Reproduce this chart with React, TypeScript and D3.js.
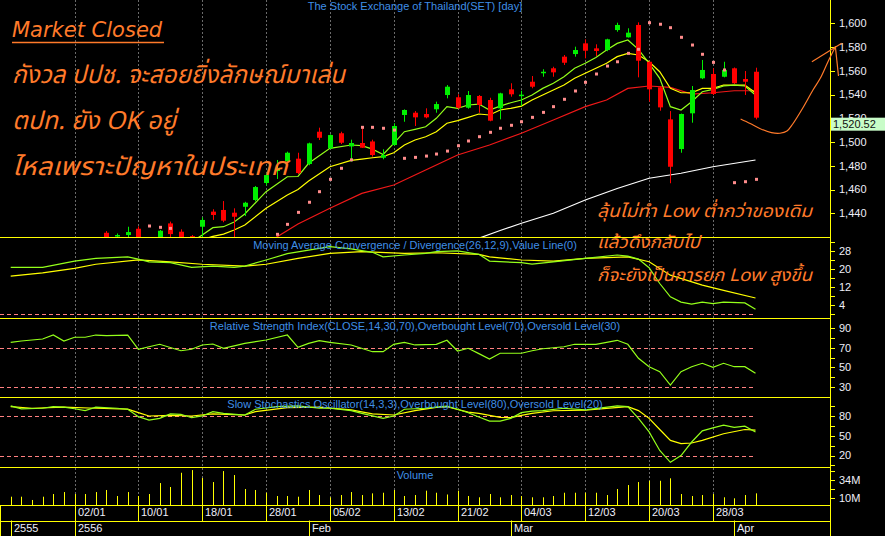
import React from 'react';
import * as d3 from 'd3';

const W = 885;
const H = 536;

// ---------- data ----------
const dates = [
  '21/12/2012', '24/12/2012', '25/12/2012', '26/12/2012', '27/12/2012', '28/12/2012',
  '02/01/2013', '03/01/2013', '04/01/2013', '07/01/2013', '08/01/2013', '09/01/2013', '10/01/2013', '11/01/2013',
  '14/01/2013', '15/01/2013', '16/01/2013', '17/01/2013', '18/01/2013', '21/01/2013', '22/01/2013', '23/01/2013',
  '24/01/2013', '25/01/2013', '28/01/2013', '29/01/2013', '30/01/2013', '31/01/2013', '01/02/2013', '04/02/2013',
  '05/02/2013', '06/02/2013', '07/02/2013', '08/02/2013', '11/02/2013', '12/02/2013', '13/02/2013', '14/02/2013',
  '15/02/2013', '18/02/2013', '19/02/2013', '20/02/2013', '21/02/2013', '22/02/2013', '26/02/2013', '27/02/2013',
  '28/02/2013', '01/03/2013', '04/03/2013', '05/03/2013', '06/03/2013', '07/03/2013', '08/03/2013', '11/03/2013',
  '12/03/2013', '13/03/2013', '14/03/2013', '15/03/2013', '18/03/2013', '19/03/2013', '20/03/2013', '21/03/2013',
  '22/03/2013', '25/03/2013', '26/03/2013', '27/03/2013', '28/03/2013', '29/03/2013', '01/04/2013', '02/04/2013',
  '03/04/2013',
];

const opens = [
  1396, 1398, 1400, 1399, 1404, 1406, 1408, 1412, 1415, 1423.6,
  1420.5, 1421.7, 1427, 1418, 1417, 1431.5, 1424.5, 1420.8, 1428.7, 1441.4,
  1442.8, 1440.5, 1445.5, 1451.2, 1465.5, 1475.6, 1483.8, 1486, 1481.5, 1508.7,
  1494.7, 1507.4, 1496.3, 1499.2, 1500.5, 1486.8, 1497.5, 1522.8, 1524.7, 1523.6,
  1527.6, 1539.6, 1537.7, 1528.9, 1538.8, 1535.4, 1528.4, 1544.4, 1538.8, 1550.8,
  1558.4, 1562.1, 1571.9, 1574.1, 1583.1, 1578.9, 1577.5, 1594.3, 1588.2, 1598.6,
  1567.6, 1546.1, 1519.1, 1494.1, 1524.2, 1553.7, 1557.3, 1555, 1562.1, 1553.1,
  1559.2,
];
const highs = [
  1400, 1402, 1403, 1405, 1408, 1410, 1414, 1417, 1419, 1425,
  1423, 1428.7, 1429, 1419, 1426, 1433, 1426.5, 1421.7, 1436.6, 1443.4,
  1450.3, 1444.2, 1449.7, 1463, 1473.5, 1484.9, 1491.9, 1491, 1499.5, 1512.1,
  1506.5, 1508.7, 1502, 1511.6, 1502, 1493.9, 1515.8, 1527.5, 1526.1, 1528.4,
  1534, 1548, 1540.2, 1543, 1539.6, 1537.3, 1541.5, 1549.5, 1543.2, 1555.6,
  1561.3, 1563.4, 1573.3, 1580.3, 1586.5, 1582.3, 1587, 1600.5, 1595.8, 1600.8,
  1568, 1547, 1526.1, 1524, 1547.2, 1569.1, 1562.1, 1567.6, 1562.8, 1559.8,
  1562.6,
];
const lows = [
  1392, 1395, 1397, 1397, 1401, 1403, 1406, 1409, 1411, 1416,
  1417, 1420, 1415, 1412, 1414, 1420, 1414, 1416, 1418, 1434.4,
  1432.5, 1419, 1437.7, 1450, 1463.5, 1468.9, 1482.5, 1473, 1480.5, 1501.7,
  1494, 1498.3, 1483.4, 1495, 1487.7, 1485.5, 1497, 1517.1, 1513.5, 1520,
  1524.7, 1536.8, 1528, 1528.1, 1524.7, 1517.5, 1519.1, 1538.2, 1530.4, 1545.3,
  1555, 1555, 1564.9, 1571.9, 1570.5, 1572.5, 1576.5, 1592.9, 1588, 1554.5,
  1534, 1526.4, 1465.3, 1491, 1516.3, 1553, 1539.6, 1554.5, 1548.9, 1539.6,
  1519.1,
];
const closes = [
  1398, 1400, 1399, 1404, 1406, 1408, 1412, 1415, 1417, 1419,
  1421.7, 1424.2, 1418, 1416, 1425.3, 1422.5, 1418, 1419.8, 1434.4, 1438.6,
  1433.8, 1437.1, 1448.9, 1462.1, 1472.2, 1478.1, 1491, 1473.9, 1498.9, 1503.6,
  1505.9, 1499.4, 1499.2, 1495.2, 1489.1, 1489.1, 1513.5, 1527, 1520.8, 1520.8,
  1532, 1546.6, 1528.9, 1539.6, 1531.2, 1518, 1541, 1540.2, 1539.9, 1546.6,
  1559.2, 1558.7, 1566.8, 1577.5, 1576.9, 1576.7, 1586.5, 1598.6, 1592.1, 1568.5,
  1544.4, 1529.2, 1479.2, 1523.6, 1543.8, 1560.7, 1540.5, 1560.7, 1549.5, 1550.8,
  1520.52,
];

// volume in millions of shares
const volumes = [
  12.1, 12.1, 7.8, 12.1, 15.6, 18.2, 15.6, 15.6, 18.2, 20.9,
  13, 18.2, 13, 15.6, 30, 24.8, 43.5, 47, 36.6, 31.3,
  45.7, 40.5, 22.2, 20.9, 17.3, 13, 13, 12.1, 20.9, 14.3,
  11.3, 14.3, 18.2, 14.3, 16.5, 17.3, 20.9, 13, 14.3, 20,
  17.3, 15, 20, 13, 11.3, 15.6, 11.3, 14.3, 13, 11.3,
  11.3, 13, 17.3, 17.3, 17.3, 17.3, 14.3, 22.2, 27.4, 31.3,
  33, 33, 36.2, 15.6, 13, 14.3, 15.6, 11.3, 10, 14.3,
  16.5,
];

// Parabolic SAR (null = not visible)
const sar: (number | null)[] = [
  null, null, null, null, null, null, null, null, null, null,
  null, null, null, 1429.3, 1428.2, 1427.3, null, null, null, null,
  null, null, null, null, null, 1422.3, 1430.7, 1440.8, 1449.3, 1458.2,
  1468.6, 1477.9, 1485, 1512.4, 1512.4, 1511.6, 1510.1, 1486.3, 1487.1, 1488.2,
  1489.9, 1492.4, 1496.9, 1500.9, 1504.5, 1508.2, 1511.6, 1514.1, 1517.1, 1520.8,
  1525, 1529.8, 1536, 1543, 1550.3, 1557.3, 1564, 1567.6, 1574.7, 1578.1,
  1600.5, 1599.2, 1596.3, 1588.2, 1581.7, 1573.9, 1567.1, 1560.7, 1465.8, 1466.6,
  1468.6,
];

// moving averages: [bar index, value]
const maFast: [number, number][] = [
  [17, 1416], [18, 1421.7], [19, 1427.9], [20, 1428.7], [21, 1432.7], [22, 1439.4], [24, 1458.2],
  [26, 1470.8], [27, 1471], [28, 1482.1], [30, 1494.7], [32, 1497.5], [33, 1497], [34, 1494],
  [35, 1489.5], [36, 1498.9], [37, 1508.7], [38, 1510.7], [39, 1512.9], [40, 1520], [41, 1529.8],
  [42, 1528.4], [43, 1531.2], [44, 1532], [45, 1527], [46, 1530.3], [47, 1533.1], [48, 1535.4],
  [49, 1539.6], [50, 1545.2], [51, 1549.5], [52, 1555], [53, 1562.1], [54, 1566.3], [55, 1571.2],
  [56, 1577.5], [57, 1583.1], [58, 1585.9], [59, 1578.1], [60, 1566.3], [61, 1553.7], [62, 1529.8],
  [63, 1527], [64, 1534], [65, 1542.4], [66, 1544.4], [67, 1547.2], [68, 1548], [69, 1547.2], [70, 1539.6],
];
const maMid: [number, number][] = [
  [18, 1418], [19, 1420.5], [20, 1422.5], [21, 1425.9], [22, 1430.1], [24, 1444.2], [26, 1455.4],
  [27, 1460], [28, 1467.2], [30, 1479.2], [32, 1484.5], [33, 1485.7], [34, 1486.8], [35, 1487.7],
  [36, 1491], [37, 1497.5], [38, 1501.7], [39, 1504.5], [40, 1508.7], [41, 1515.8], [42, 1518],
  [43, 1520.8], [44, 1523.6], [45, 1522.8], [46, 1527], [47, 1528.4], [48, 1530.3], [49, 1535.4],
  [50, 1539.6], [51, 1543.8], [52, 1548], [53, 1553.7], [54, 1557.9], [55, 1562.1], [56, 1566.3],
  [57, 1571.9], [58, 1574.7], [59, 1573.3], [60, 1567.6], [61, 1559.2], [62, 1545.2], [63, 1541.5],
  [64, 1541.5], [65, 1545.2], [66, 1545.2], [67, 1548], [68, 1548], [69, 1548], [70, 1541.5],
];
const maSlow: [number, number][] = [
  [24, 1414], [25, 1420], [27, 1431], [30, 1444.2], [33, 1456.8], [36, 1463.8], [39, 1476.4],
  [42, 1489.1], [45, 1497.5], [48, 1507.4], [51, 1518.6], [54, 1529.8], [56, 1535.4], [58, 1545.2],
  [60, 1547.2], [62, 1546.1], [64, 1540.4], [66, 1541.5], [68, 1543.2], [70, 1543.2],
];
const maLong: [number, number][] = [
  [43, 1416], [44.3, 1420], [46, 1425.5], [48, 1431.6], [51, 1440], [54, 1451.2], [57, 1460.9],
  [60, 1469.5], [63, 1473.7], [66, 1479.2], [70, 1484.9],
];

// MACD
const macdLine: [number, number][] = [
  [0, 20.6], [3, 20.6], [6, 23.4], [8, 24.6], [11, 25.3], [12, 24.3], [13, 23.1], [15, 22.7],
  [17, 20.6], [19, 21.2], [21, 20.6], [22, 21.2], [24, 23.9], [26, 26.7], [30, 29.8], [32, 28.8],
  [34, 27.3], [35, 25.3], [37, 26.1], [39, 26.8], [40, 27.6], [42, 27.9], [44, 26.4], [45, 23.4],
  [48, 22.7], [49, 22.1], [51, 23.1], [54, 24.6], [57, 26.1], [58, 25.6], [59, 24.3], [60, 20.5],
  [61, 13.5], [62, 7.6], [63, 5.3], [64, 4.4], [65, 5.3], [66, 4.6], [67, 5.3], [69, 4.9], [70, 2.1],
];
const macdSignal: [number, number][] = [
  [0, 16.8], [3, 18.2], [6, 20.2], [8, 22], [12, 23.9], [15, 23.1], [18, 22], [22, 21.2], [24, 22],
  [27, 24.6], [30, 26.8], [33, 27.6], [37, 26.8], [40, 27.1], [44, 26.4], [45, 25.3], [48, 23.9],
  [51, 23.4], [54, 24.6], [58, 25.3], [60, 23.1], [62, 17.2], [65, 12.8], [67, 10.5], [70, 7.1],
];

// RSI
const rsiLine: [number, number][] = [
  [0, 75.6], [1, 77], [3, 79], [4, 83.1], [5, 77], [6, 80.8], [7, 80.8], [8, 83.1], [9, 82.4],
  [11, 83.1], [12, 68.5], [13, 71.1], [14, 73.6], [16, 67], [17, 68.5], [18, 72.9], [19, 73.9],
  [20, 69.5], [22, 74.6], [24, 78], [26, 83.1], [27, 70.5], [28, 74.6], [29, 77.3], [30, 75.6],
  [32, 72.9], [34, 66], [35, 66], [36, 73.6], [37, 75.6], [38, 72.9], [40, 73.6], [41, 77.7],
  [42, 66.7], [43, 69.5], [44, 64], [45, 58.5], [46, 64.4], [48, 64.4], [49, 67], [50, 69],
  [52, 71.1], [53, 73.6], [55, 73.6], [57, 77.7], [58, 73.6], [59, 59.2], [60, 50.6], [61, 45.5],
  [62, 31.8], [63, 45.5], [64, 50.6], [65, 54.1], [66, 50], [67, 54.1], [68, 50.6], [69, 50.6], [70, 43.8],
];

// Slow stochastics
const stochK: [number, number][] = [
  [0, 95.4], [1, 90.8], [3, 91.8], [4, 94.3], [5, 93.4], [6, 91], [7, 88.2], [8, 93.4], [10, 91.8],
  [11, 90.3], [12, 79], [13, 73.8], [14, 76.4], [15, 83.1], [16, 82.6], [17, 77.4], [18, 80],
  [19, 86.6], [20, 84.1], [22, 81.5], [23, 90.3], [25, 94.3], [27, 95.4], [29, 91.8], [30, 91.8],
  [32, 88.2], [33, 84.1], [35, 76.4], [36, 80], [37, 90.3], [39, 91.8], [40, 93.4], [41, 95],
  [42, 90.3], [43, 85], [44, 78.5], [45, 72.3], [46, 72.3], [47, 76.4], [48, 85.1], [49, 87.5],
  [50, 88.2], [52, 91.8], [54, 89.2], [57, 95.4], [58, 94.3], [59, 76.4], [60, 55.8], [61, 27.7],
  [62, 9.7], [63, 20], [64, 40.5], [65, 57.4], [66, 62], [67, 66.2], [68, 62.6], [69, 64.6], [70, 55.8],
];
const stochD: [number, number][] = [
  [0, 94.3], [2, 91.8], [5, 93.4], [8, 91.8], [11, 90.3], [12, 85.1], [13, 80], [15, 81], [17, 80],
  [19, 83.1], [21, 82], [22, 81.5], [23, 86.6], [26, 92.8], [29, 93.4], [32, 89.2], [34, 83.1],
  [36, 81.5], [38, 88.2], [40, 93], [41, 94], [43, 86], [44, 84], [46, 78], [47, 77.5], [48, 81],
  [49, 84], [51, 88], [54, 89], [58, 94.3], [59, 88.2], [60, 76.4], [61, 59.5], [62, 43], [63, 38],
  [64, 39], [65, 43], [67, 53], [69, 59.5], [70, 58.5],
];

// axis labels
const priceTicks = [1440, 1460, 1480, 1500, 1520, 1540, 1560, 1580, 1600];
const macdTicks = [4, 12, 20, 28];
const macdMinor = [0, 4, 8, 12, 16, 20, 24, 28, 32];
const rsiTicks = [30, 50, 70, 90];
const rsiMinor = [30, 40, 50, 60, 70, 80, 90];
const stochTicks = [20, 50, 80];
const stochMinor = [5, 20, 35, 50, 65, 80, 95];
const volTicks = [10, 34];
const volMinor = [10, 22, 34, 46];
const dayTickIdx = [6, 12, 18, 24, 30, 36, 42, 48, 54, 60, 66];
const periodIdx = [0, 6, 28, 47, 68];
const periodLabels = ['2555', '2556', 'Feb', 'Mar', 'Apr'];
const lastPrice = 1520.52;

// ---------- styles ----------
const YEL = '#ffff00';
const CANDLE_UP = '#00f000';
const CANDLE_DN = '#ff0000';
const LIME = '#94ff1a';
const RED_MA = '#f01818';
const PINK = '#ff8c8c';
const ORANGE = '#ff7a2a';
const BLUE = '#3f8fe6';
const LABEL = '#eeeef8';
const AXIS_FONT = "'Liberation Sans', Arial, sans-serif";
const THAI_FONT = "'Noto Sans Thai', 'Noto Sans Thai UI', 'Noto Sans', 'DejaVu Sans', sans-serif";

const RIGHT = 830;
const P = {
  main: [0, 237],
  macd: [237, 318],
  rsi: [318, 396.5],
  stoch: [396.5, 467],
  vol: [467, 505],
};

export default function App() {
  const x = d3.scaleLinear().domain([0, 70]).range([10.7, 755.5]);
  const yP = d3.scaleLinear().domain([1440, 1600]).range([213.3, 23.3]);
  const yM = d3.scaleLinear().domain([4, 28]).range([305, 250.7]);
  const yR = d3.scaleLinear().domain([30, 90]).range([386.8, 328.3]);
  const yS = d3.scaleLinear().domain([20, 80]).range([455.5, 416]);
  const yV = d3.scaleLinear().domain([10, 34]).range([498.3, 480]);
  const fmt = d3.format(',');

  const mk = (ys: d3.ScaleLinear<number, number>) =>
    d3.line<[number, number]>().x((d) => x(d[0])).y((d) => ys(d[1]));

  const px = (i: number) => Math.round(x(i));

  const clip = (id: string, r: number[]) => (
    <clipPath id={id}>
      <rect x={0} y={r[0]} width={RIGHT} height={r[1] - r[0]} />
    </clipPath>
  );

  const axisTicks = (vals: number[], ys: d3.ScaleLinear<number, number>, key: string) =>
    vals.map((v) => (
      <line key={key + v} x1={RIGHT} x2={RIGHT + 5} y1={Math.round(ys(v)) + 0.5} y2={Math.round(ys(v)) + 0.5} stroke={YEL} />
    ));
  const axisLabels = (vals: number[], ys: d3.ScaleLinear<number, number>, f: (v: number) => string, key: string) =>
    vals.map((v) => (
      <text key={key + v} x={839} y={ys(v)} dy="0.35em" fill={LABEL} fontSize={11} fontFamily={AXIS_FONT}>
        {f(v)}
      </text>
    ));

  const dashed = (ys: d3.ScaleLinear<number, number>, v: number, key: string) => (
    <line key={key} x1={0} x2={x(70)} y1={Math.round(ys(v)) + 0.5} y2={Math.round(ys(v)) + 0.5}
      stroke="#ff8080" strokeDasharray="4 3" />
  );

  const lastY = yP(lastPrice);

  return (
    <div style={{ position: 'fixed', left: 0, top: 0, width: W, height: H, background: '#000' }}>
      <svg width={W} height={H} style={{ display: 'block' }}>
        <defs>
          {clip('cMain', P.main)}
          {clip('cMacd', P.macd)}
          {clip('cRsi', P.rsi)}
          {clip('cStoch', P.stoch)}
          {clip('cVol', P.vol)}
        </defs>
        <rect width={W} height={H} fill="#000" />

        {/* vertical dotted grid */}
        {dayTickIdx.map((i) => (
          <line key={'g' + i} x1={px(i) + 0.5} x2={px(i) + 0.5} y1={0} y2={505} stroke="#6a6a6a" strokeDasharray="2 2" />
        ))}

        {/* ---------- main price panel ---------- */}
        <g clipPath="url(#cMain)">
          <path d={mk(yP)(maLong) || ''} fill="none" stroke="#ffffff" strokeWidth={1.2} />
          <path d={mk(yP)(maSlow) || ''} fill="none" stroke={RED_MA} strokeWidth={1.2} />
          <path d={mk(yP)(maMid) || ''} fill="none" stroke={YEL} strokeWidth={1.2} />
          <path d={mk(yP)(maFast) || ''} fill="none" stroke={LIME} strokeWidth={1.2} />
          {opens.map((o, i) => {
            const c = closes[i];
            const up = c >= o;
            const col = up ? CANDLE_UP : CANDLE_DN;
            const cx = px(i);
            const top = yP(Math.max(o, c));
            const bot = yP(Math.min(o, c));
            return (
              <g key={'c' + i}>
                <line x1={cx + 0.5} x2={cx + 0.5} y1={yP(highs[i])} y2={yP(lows[i])} stroke={col} />
                <rect x={cx - 2} y={top} width={5} height={Math.max(1.5, bot - top)} fill={col} />
              </g>
            );
          })}
          {sar.map((v, i) =>
            v == null ? null : (
              <rect key={'s' + i} x={px(i) - 1} y={yP(v) - 1.5} width={3} height={3} fill={PINK} />
            ),
          )}
        </g>

        {/* ---------- MACD ---------- */}
        <g clipPath="url(#cMacd)">
          {dashed(yM, 0, 'mz')}
          <path d={mk(yM)(macdSignal) || ''} fill="none" stroke={YEL} strokeWidth={1.2} />
          <path d={mk(yM)(macdLine) || ''} fill="none" stroke={LIME} strokeWidth={1.2} />
        </g>

        {/* ---------- RSI ---------- */}
        <g clipPath="url(#cRsi)">
          {dashed(yR, 70, 'r70')}
          {dashed(yR, 30, 'r30')}
          <path d={mk(yR)(rsiLine) || ''} fill="none" stroke={LIME} strokeWidth={1.2} />
        </g>

        {/* ---------- Stochastics ---------- */}
        <g clipPath="url(#cStoch)">
          {dashed(yS, 80, 's80')}
          {dashed(yS, 20, 's20')}
          <path d={mk(yS)(stochD) || ''} fill="none" stroke={YEL} strokeWidth={1.2} />
          <path d={mk(yS)(stochK) || ''} fill="none" stroke={LIME} strokeWidth={1.2} />
        </g>

        {/* ---------- Volume ---------- */}
        <g clipPath="url(#cVol)">
          {volumes.map((v, i) => (
            <line key={'v' + i} x1={px(i) + 0.5} x2={px(i) + 0.5} y1={yV(v)} y2={505} stroke={YEL} />
          ))}
        </g>

        {/* panel titles */}
        <g fontFamily={AXIS_FONT} fontSize={11} fill={BLUE} textAnchor="middle">
          <text x={415} y={6.5} dy="0.35em">The Stock Exchange of Thailand(SET) [day]</text>
          <text x={415} y={245} dy="0.35em">Moving Average Convergence / Divergence(26,12,9),Value Line(0)</text>
          <text x={415} y={326} dy="0.35em">Relative Strength Index(CLOSE,14,30,70),Overbought Level(70),Oversold Level(30)</text>
          <text x={415} y={404} dy="0.35em">Slow Stochastics Oscillator(14,3,3),Overbought Level(80),Oversold Level(20)</text>
          <text x={415} y={475} dy="0.35em">Volume</text>
        </g>

        {/* panel borders */}
        {[P.main[1], P.macd[1], P.rsi[1], P.stoch[1], P.vol[1], 520.5, 535.5].map((yy, k) => (
          <line key={'b' + k} x1={0} x2={RIGHT} y1={Math.round(yy) + 0.5} y2={Math.round(yy) + 0.5} stroke={YEL} />
        ))}
        <line x1={RIGHT + 0.5} x2={RIGHT + 0.5} y1={0} y2={H} stroke={YEL} />
        <line x1={0.5} x2={0.5} y1={505} y2={536} stroke={YEL} />

        {/* right axes */}
        {axisTicks(priceTicks, yP, 'pt')}
        {axisLabels(priceTicks, yP, (v) => fmt(v), 'pl')}
        {axisTicks(macdMinor, yM, 'mt')}
        {axisLabels(macdTicks, yM, (v) => String(v), 'ml')}
        {axisTicks(rsiMinor, yR, 'rt')}
        {axisLabels(rsiTicks, yR, (v) => String(v), 'rl')}
        {axisTicks(stochMinor, yS, 'st')}
        {axisLabels(stochTicks, yS, (v) => String(v), 'sl')}
        {axisTicks(volMinor, yV, 'vt')}
        {axisLabels(volTicks, yV, (v) => v + 'M', 'vl')}

        {/* last price box */}
        <rect x={RIGHT + 1} y={lastY} width={W - RIGHT - 1} height={13} fill="#c8fcc8" />
        <text x={833} y={lastY + 6.8} dy="0.35em" fill="#101010" fontSize={11} fontFamily={AXIS_FONT}>
          {d3.format(',.2f')(lastPrice)}
        </text>

        {/* date axis */}
        {dayTickIdx.map((i) => (
          <g key={'d' + i}>
            <line x1={px(i) + 0.5} x2={px(i) + 0.5} y1={505} y2={521} stroke={YEL} />
            <text x={px(i) + 3} y={516} fill={LABEL} fontSize={11} fontFamily={AXIS_FONT}>
              {dates[i].slice(0, 5)}
            </text>
          </g>
        ))}
        {periodIdx.map((i, k) => (
          <g key={'p' + i}>
            <line x1={px(i) + 0.5} x2={px(i) + 0.5} y1={520.5} y2={536} stroke={YEL} />
            <text x={px(i) + 3} y={532} fill={LABEL} fontSize={11} fontFamily={AXIS_FONT}>
              {periodLabels[k]}
            </text>
          </g>
        ))}

        {/* hand-drawn arrow annotation (in data coords) */}
        <path
          d={d3.line<[number, number]>().x((d) => x(d[0])).y((d) => yP(d[1])).curve(d3.curveCatmullRom)([
            [68.6, 1519.4], [69.5, 1515.6], [70.4, 1511.4], [71.5, 1507.9], [72.3, 1507.4], [72.96, 1509.3],
            [73.5, 1515.2], [74.5, 1529.5], [75.4, 1543.8], [76.1, 1553.9], [76.8, 1567.4], [77.5, 1580],
          ]) || ''}
          fill="none" stroke={ORANGE} strokeWidth={1.2}
        />
        <path
          d={d3.line<[number, number]>().x((d) => x(d[0])).y((d) => yP(d[1]))([[75.3, 1567.7], [78.1, 1583.2]]) || ''}
          fill="none" stroke={ORANGE} strokeWidth={1.2}
        />
        <path
          d={d3.line<[number, number]>().x((d) => x(d[0])).y((d) => yP(d[1]))([[77.5, 1580.9], [77.8, 1555.6]]) || ''}
          fill="none" stroke={ORANGE} strokeWidth={1.2}
        />

        {/* text annotations */}
        <g fill={ORANGE} fontStyle="italic">
          <text x={12} y={36.5} fontSize={21} fontFamily="'DejaVu Sans', sans-serif">Market Closed</text>
          <line x1={12} x2={164} y1={42.5} y2={42.5} stroke={ORANGE} strokeWidth={1.5} />
          <text x={12} y={83} fontSize={25} fontFamily={THAI_FONT} textLength={333} lengthAdjust="spacingAndGlyphs">กังวล ปปช. จะสอยยิ่งลักษณ์มาเล่น</text>
          <text x={12} y={129} fontSize={25} fontFamily={THAI_FONT} textLength={164} lengthAdjust="spacingAndGlyphs">ตปท. ยัง OK อยู่</text>
          <text x={12} y={175} fontSize={25} fontFamily={THAI_FONT} textLength={276} lengthAdjust="spacingAndGlyphs">ไหลเพราะปัญหาในประเทศ</text>
          <text x={597} y={217} fontSize={17.5} fontFamily={THAI_FONT} textLength={215} lengthAdjust="spacingAndGlyphs">ลุ้นไม่ทำ Low ต่ำกว่าของเดิม</text>
          <text x={597} y={248} fontSize={17.5} fontFamily={THAI_FONT} textLength={103} lengthAdjust="spacingAndGlyphs">แล้วดึงกลับไป</text>
          <text x={597} y={281} fontSize={17.5} fontFamily={THAI_FONT} textLength={215} lengthAdjust="spacingAndGlyphs">ก็จะยังเป็นการยก Low สูงขึ้น</text>
        </g>
      </svg>
    </div>
  );
}
